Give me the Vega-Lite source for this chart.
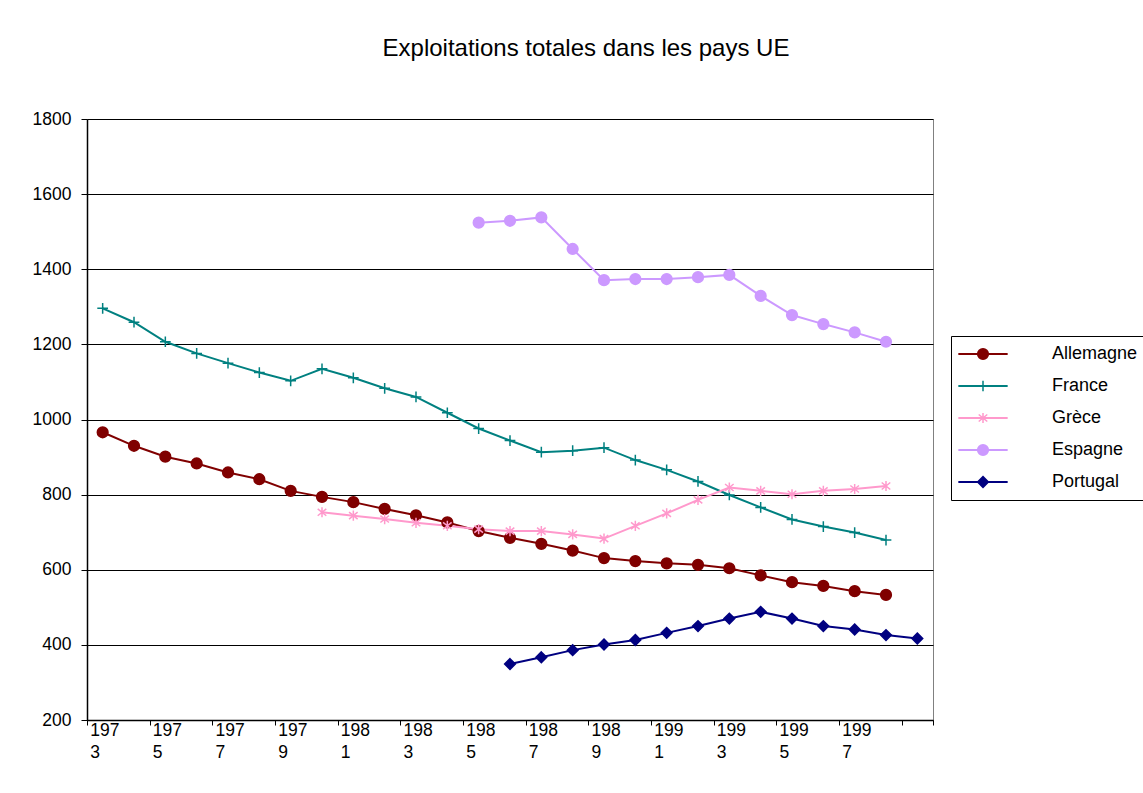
{
  "$schema": "https://vega.github.io/schema/vega-lite/v6.json",
  "width": 846,
  "height": 601,
  "autosize": "none",
  "padding": {"left": 87, "top": 119, "right": 210, "bottom": 73},
  "background": "white",
  "title": {
    "text": "Exploitations totales dans les pays UE",
    "fontSize": 24,
    "font": "Liberation Sans",
    "fontWeight": "normal",
    "color": "black",
    "anchor": "middle",
    "dx": 76,
    "baseline": "alphabetic",
    "offset": 30
  },
  "data": {
    "values": [
      {"pays": "Allemagne", "annee": 1973, "valeur": 966},
      {"pays": "Allemagne", "annee": 1974, "valeur": 930},
      {"pays": "Allemagne", "annee": 1975, "valeur": 901},
      {"pays": "Allemagne", "annee": 1976, "valeur": 883},
      {"pays": "Allemagne", "annee": 1977, "valeur": 859},
      {"pays": "Allemagne", "annee": 1978, "valeur": 841},
      {"pays": "Allemagne", "annee": 1979, "valeur": 810},
      {"pays": "Allemagne", "annee": 1980, "valeur": 794},
      {"pays": "Allemagne", "annee": 1981, "valeur": 780},
      {"pays": "Allemagne", "annee": 1982, "valeur": 762},
      {"pays": "Allemagne", "annee": 1983, "valeur": 745},
      {"pays": "Allemagne", "annee": 1984, "valeur": 726},
      {"pays": "Allemagne", "annee": 1985, "valeur": 703},
      {"pays": "Allemagne", "annee": 1986, "valeur": 685},
      {"pays": "Allemagne", "annee": 1987, "valeur": 669},
      {"pays": "Allemagne", "annee": 1988, "valeur": 651},
      {"pays": "Allemagne", "annee": 1989, "valeur": 631},
      {"pays": "Allemagne", "annee": 1990, "valeur": 623},
      {"pays": "Allemagne", "annee": 1991, "valeur": 617},
      {"pays": "Allemagne", "annee": 1992, "valeur": 613},
      {"pays": "Allemagne", "annee": 1993, "valeur": 604},
      {"pays": "Allemagne", "annee": 1994, "valeur": 585},
      {"pays": "Allemagne", "annee": 1995, "valeur": 567},
      {"pays": "Allemagne", "annee": 1996, "valeur": 557},
      {"pays": "Allemagne", "annee": 1997, "valeur": 543},
      {"pays": "Allemagne", "annee": 1998, "valeur": 533},
      {"pays": "France", "annee": 1973, "valeur": 1296},
      {"pays": "France", "annee": 1974, "valeur": 1259},
      {"pays": "France", "annee": 1975, "valeur": 1207},
      {"pays": "France", "annee": 1976, "valeur": 1176},
      {"pays": "France", "annee": 1977, "valeur": 1150},
      {"pays": "France", "annee": 1978, "valeur": 1125},
      {"pays": "France", "annee": 1979, "valeur": 1103},
      {"pays": "France", "annee": 1980, "valeur": 1135},
      {"pays": "France", "annee": 1981, "valeur": 1111},
      {"pays": "France", "annee": 1982, "valeur": 1083},
      {"pays": "France", "annee": 1983, "valeur": 1060},
      {"pays": "France", "annee": 1984, "valeur": 1018},
      {"pays": "France", "annee": 1985, "valeur": 976},
      {"pays": "France", "annee": 1986, "valeur": 944},
      {"pays": "France", "annee": 1987, "valeur": 913},
      {"pays": "France", "annee": 1988, "valeur": 917},
      {"pays": "France", "annee": 1989, "valeur": 925},
      {"pays": "France", "annee": 1990, "valeur": 892},
      {"pays": "France", "annee": 1991, "valeur": 866},
      {"pays": "France", "annee": 1992, "valeur": 835},
      {"pays": "France", "annee": 1993, "valeur": 799},
      {"pays": "France", "annee": 1994, "valeur": 766},
      {"pays": "France", "annee": 1995, "valeur": 734},
      {"pays": "France", "annee": 1996, "valeur": 715},
      {"pays": "France", "annee": 1997, "valeur": 699},
      {"pays": "France", "annee": 1998, "valeur": 679},
      {"pays": "Grèce", "annee": 1980, "valeur": 753},
      {"pays": "Grèce", "annee": 1981, "valeur": 744},
      {"pays": "Grèce", "annee": 1982, "valeur": 735},
      {"pays": "Grèce", "annee": 1983, "valeur": 725},
      {"pays": "Grèce", "annee": 1984, "valeur": 717},
      {"pays": "Grèce", "annee": 1985, "valeur": 708},
      {"pays": "Grèce", "annee": 1986, "valeur": 703},
      {"pays": "Grèce", "annee": 1987, "valeur": 703},
      {"pays": "Grèce", "annee": 1988, "valeur": 694},
      {"pays": "Grèce", "annee": 1989, "valeur": 683},
      {"pays": "Grèce", "annee": 1990, "valeur": 717},
      {"pays": "Grèce", "annee": 1991, "valeur": 750},
      {"pays": "Grèce", "annee": 1992, "valeur": 786},
      {"pays": "Grèce", "annee": 1993, "valeur": 819},
      {"pays": "Grèce", "annee": 1994, "valeur": 810},
      {"pays": "Grèce", "annee": 1995, "valeur": 801},
      {"pays": "Grèce", "annee": 1996, "valeur": 810},
      {"pays": "Grèce", "annee": 1997, "valeur": 815},
      {"pays": "Grèce", "annee": 1998, "valeur": 823},
      {"pays": "Espagne", "annee": 1985, "valeur": 1524},
      {"pays": "Espagne", "annee": 1986, "valeur": 1529},
      {"pays": "Espagne", "annee": 1987, "valeur": 1538},
      {"pays": "Espagne", "annee": 1988, "valeur": 1454},
      {"pays": "Espagne", "annee": 1989, "valeur": 1371},
      {"pays": "Espagne", "annee": 1990, "valeur": 1374},
      {"pays": "Espagne", "annee": 1991, "valeur": 1374},
      {"pays": "Espagne", "annee": 1992, "valeur": 1379},
      {"pays": "Espagne", "annee": 1993, "valeur": 1385},
      {"pays": "Espagne", "annee": 1994, "valeur": 1329},
      {"pays": "Espagne", "annee": 1995, "valeur": 1278},
      {"pays": "Espagne", "annee": 1996, "valeur": 1254},
      {"pays": "Espagne", "annee": 1997, "valeur": 1232},
      {"pays": "Espagne", "annee": 1998, "valeur": 1207},
      {"pays": "Portugal", "annee": 1986, "valeur": 349},
      {"pays": "Portugal", "annee": 1987, "valeur": 367},
      {"pays": "Portugal", "annee": 1988, "valeur": 386},
      {"pays": "Portugal", "annee": 1989, "valeur": 401},
      {"pays": "Portugal", "annee": 1990, "valeur": 413},
      {"pays": "Portugal", "annee": 1991, "valeur": 432},
      {"pays": "Portugal", "annee": 1992, "valeur": 450},
      {"pays": "Portugal", "annee": 1993, "valeur": 470},
      {"pays": "Portugal", "annee": 1994, "valeur": 488},
      {"pays": "Portugal", "annee": 1995, "valeur": 470},
      {"pays": "Portugal", "annee": 1996, "valeur": 450},
      {"pays": "Portugal", "annee": 1997, "valeur": 441},
      {"pays": "Portugal", "annee": 1998, "valeur": 426},
      {"pays": "Portugal", "annee": 1999, "valeur": 417}
    ]
  },
  "encoding": {
    "x": {
      "field": "annee",
      "type": "quantitative",
      "scale": {"domain": [1972.5, 1999.5], "nice": false, "zero": false},
      "axis": {
        "title": null,
        "grid": false,
        "values": [1972.5, 1973, 1974.5, 1975, 1976.5, 1977, 1978.5, 1979, 1980.5, 1981, 1982.5, 1983, 1984.5, 1985, 1986.5, 1987, 1988.5, 1989, 1990.5, 1991, 1992.5, 1993, 1994.5, 1995, 1996.5, 1997, 1998.5, 1999.5],
        "labelExpr": "datum.value % 1 == 0 ? [substring(toString(datum.value), 0, 3), substring(toString(datum.value), 3, 4)] : ''",
        "labelAlign": "left",
        "labelOffset": -13,
        "labelBaseline": "top",
        "labelPadding": -4,
        "labelLineHeight": 22,
        "labelFontSize": 17.5,
        "labelFont": "Liberation Sans",
        "labelColor": "black",
        "labelOverlap": false,
        "labelBound": false,
        "labelFlush": false,
        "tickSize": 5,
        "tickColor": "black",
        "tickOpacity": {"condition": {"test": "datum.value % 1 == 0", "value": 0}, "value": 1},
        "domainColor": "black",
        "domainWidth": 1.5
      }
    },
    "y": {
      "field": "valeur",
      "type": "quantitative",
      "scale": {"domain": [200, 1800], "nice": false, "zero": false},
      "axis": {
        "title": null,
        "format": "d",
        "values": [200, 400, 600, 800, 1000, 1200, 1400, 1600, 1800],
        "grid": true,
        "gridColor": "black",
        "gridWidth": 1,
        "gridOpacity": 1,
        "tickSize": 6,
        "tickColor": "black",
        "domainColor": "black",
        "domainWidth": 1.5,
        "labelPadding": 10,
        "labelFontSize": 17.5,
        "labelFont": "Liberation Sans",
        "labelColor": "black"
      }
    }
  },
  "layer": [
    {
      "mark": {"type": "line", "strokeWidth": 2},
      "encoding": {
        "stroke": {
          "field": "pays",
          "type": "nominal",
          "scale": {"domain": ["Allemagne", "France", "Grèce", "Espagne", "Portugal"], "range": ["#800000", "#008080", "#FF99CC", "#CC99FF", "#000080"]},
          "legend": {"title": null, "symbolType": "M-4.6,0H4.6", "symbolStrokeWidth": 2}
        }
      }
    },
    {
      "mark": {"type": "point", "filled": true, "opacity": 1, "size": 115, "strokeWidth": 1.5},
      "encoding": {
        "fill": {
          "field": "pays",
          "type": "nominal",
          "scale": {"domain": ["Allemagne", "France", "Grèce", "Espagne", "Portugal"], "range": ["#800000", "#008080", "#FF99CC", "#CC99FF", "#000080"]},
          "legend": {"title": null, "fillColor": "transparent", "strokeColor": "transparent", "labelOpacity": 0, "symbolStrokeWidth": 1.5}
        },
        "stroke": {
          "field": "pays",
          "type": "nominal",
          "scale": {"domain": ["Allemagne", "France", "Grèce", "Espagne", "Portugal"], "range": ["#800000", "#008080", "#FF99CC", "#CC99FF", "#000080"]},
          "legend": {"title": null, "fillColor": "transparent", "strokeColor": "transparent", "labelOpacity": 0, "symbolStrokeWidth": 1.5}
        },
        "shape": {
          "field": "pays",
          "type": "nominal",
          "scale": {
            "domain": ["Allemagne", "France", "Grèce", "Espagne", "Portugal"],
            "range": [
              "M-1,0A1,1 0 1,1 1,0A1,1 0 1,1 -1,0Z",
              "M-1,0H1M0,-1V1",
              "M0,-0.95V0.95M-0.8,-0.65L0.8,0.65M-0.8,0.65L0.8,-0.65",
              "M-1,0A1,1 0 1,1 1,0A1,1 0 1,1 -1,0Z",
              "M0,-1L1,0L0,1L-1,0Z"
            ]
          },
          "legend": {"title": null, "fillColor": "transparent", "strokeColor": "transparent", "labelOpacity": 0, "symbolStrokeWidth": 1.5}
        }
      }
    }
  ],
  "resolve": {"legend": {"stroke": "independent", "fill": "independent", "shape": "independent"}},
  "config": {
    "view": {"stroke": "#808080", "strokeWidth": 1},
    "legend": {
      "orient": "none",
      "legendX": 864,
      "legendY": 217,
      "strokeColor": "black",
      "fillColor": "white",
      "padding": 9,
      "labelFontSize": 18,
      "labelFont": "Liberation Sans",
      "labelColor": "black",
      "labelLimit": 0,
      "symbolSize": 115,
      "rowPadding": 14,
      "symbolOffset": 14,
      "labelOffset": 60
    }
  }
}
